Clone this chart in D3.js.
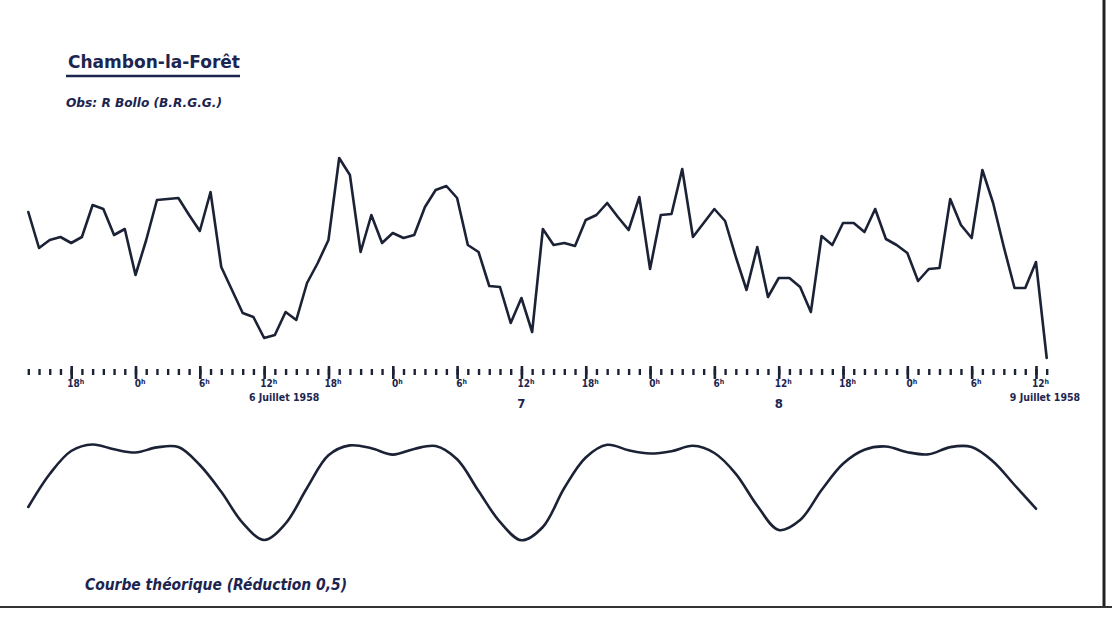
<!DOCTYPE html>
<html>
<head>
<meta charset="utf-8">
<script src="https://cdn.jsdelivr.net/npm/d3@7"></script>
<style>
  html, body { margin: 0; padding: 0; background: #ffffff; }
  svg { display: block; }
  .hand { font-family: "DejaVu Sans Condensed", "Liberation Sans Narrow", "DejaVu Sans", sans-serif; font-stretch: condensed; fill: #1c2550; font-weight: bold; }
</style>
</head>
<body>
<svg id="chart" width="1117" height="617"></svg>
<script>
// ---------- DATA ----------
const startTime = Date.UTC(1958, 6, 5, 14);          // 5 juillet 1958, 14h
const endTime   = Date.UTC(1958, 6, 9, 13);          // 9 juillet 1958, 13h
// observed hourly readings (arbitrary units), from 5 juillet 14h
const observed = [
  14.8, 11.2, 12.0, 12.3, 11.7, 12.3, 15.5, 15.1, 12.5, 13.1,
   8.5, 12.0, 16.0, 16.1, 16.2, 14.5, 12.9, 16.8,  9.3,  7.0,
   4.7,  4.3,  2.2,  2.5,  4.8,  4.0,  7.7,  9.7, 12.0, 20.2,
  18.5, 10.8, 14.5, 11.7, 12.7, 12.2, 12.5, 15.3, 17.0, 17.4,
  16.2, 11.5, 10.8,  7.4,  7.3,  3.7,  6.2,  2.8, 13.1, 11.5,
  11.7, 11.4, 14.0, 14.5, 15.7, 14.3, 13.0, 16.3,  9.1, 14.5,
  14.6, 19.1, 12.3, 13.7, 15.1, 13.9, 10.3,  7.0, 11.3,  6.3,
   8.2,  8.2,  7.3,  4.8, 12.4, 11.5, 13.7, 13.7, 12.8, 15.1,
  12.1, 11.5, 10.7,  7.9,  9.1,  9.2, 16.1, 13.5, 12.2, 19.0,
  15.7, 11.3,  7.2,  7.2,  9.8,  0.2
];
// theoretical curve, every 2 hours from 5 juillet 14h
const theoreticalStep = 2;
const theoretical = [
   5.3,  8.6, 10.9, 11.55, 11.07, 10.75, 11.26, 11.3,  9.5,  6.82,
   3.71, 2.0,  3.65, 7.2, 10.47, 11.46, 11.18, 10.54, 11.11, 11.4,
  10.07, 6.9,  3.81, 1.98, 3.3,  7.2, 10.25, 11.52, 10.97, 10.65,
  10.88, 11.42, 10.7, 8.62, 5.43, 3.0,  4.0,  7.0,  9.63, 11.03,
  11.35, 10.78, 10.57, 11.29, 11.3, 9.85, 7.5,  5.13
];
const titleText = "Chambon-la-Forêt";
const subtitleText = "Obs: R Bollo (B.R.G.G.)";
const curveLabel = "Courbe théorique (Réduction 0,5)";
const dayLabelDates = [Date.UTC(1958,6,6,12), Date.UTC(1958,6,7,12), Date.UTC(1958,6,8,12), Date.UTC(1958,6,9,12)];
const dayLabelTexts = ["6 Juillet 1958", "7", "8", "9 Juillet 1958"];

// ---------- LAYOUT ----------
const W = 1117, H = 617;
const ink = "#1c2236";
const svg = d3.select("#chart");
svg.append("rect").attr("width", W).attr("height", H).attr("fill", "#ffffff");

const x = d3.scaleUtc().domain([new Date(startTime), new Date(endTime)]).range([28.3, 1046.7]);
const yObs = d3.scaleLinear().domain([0, 20]).range([360, 160]);
const yTheo = d3.scaleLinear().domain([0, 12]).range([560, 440]);
const hourMs = 3600 * 1000;

// observed curve
const obsLine = d3.line()
  .x((d, i) => x(new Date(startTime + i * hourMs)))
  .y(d => yObs(d));
svg.append("path").datum(observed)
  .attr("d", obsLine)
  .attr("fill", "none").attr("stroke", ink)
  .attr("stroke-width", 2.6).attr("stroke-linejoin", "round").attr("stroke-linecap", "round");

// theoretical curve
const theoLine = d3.line()
  .x((d, i) => x(new Date(startTime + i * theoreticalStep * hourMs)))
  .y(d => yTheo(d))
  .curve(d3.curveCatmullRom.alpha(0.5));
svg.append("path").datum(theoretical)
  .attr("d", theoLine)
  .attr("fill", "none").attr("stroke", ink)
  .attr("stroke-width", 2.6).attr("stroke-linejoin", "round").attr("stroke-linecap", "round");

// time axis: hourly dashes
const axisY = 369;
const hourly = d3.axisBottom(x)
  .ticks(d3.utcHour.every(1))
  .tickSize(6)
  .tickFormat("");
const gh = svg.append("g").attr("transform", `translate(0,${axisY})`).call(hourly);
gh.select(".domain").remove();
gh.selectAll(".tick line").attr("stroke", ink).attr("stroke-width", 2.4);

// 6-hour ticks with labels
const sixHour = d3.axisBottom(x)
  .tickValues(d3.utcHour.every(6).range(new Date(startTime), new Date(endTime)))
  .tickSize(13)
  .tickPadding(1)
  .tickFormat(d => d.getUTCHours());
const g6 = svg.append("g").attr("transform", `translate(0,${axisY - 3})`).call(sixHour);
g6.select(".domain").remove();
g6.selectAll(".tick line").attr("stroke", ink).attr("stroke-width", 2.6);
g6.selectAll(".tick text")
  .attr("class", "hand")
  .attr("font-size", 10)
  .attr("dx", 4)
  .each(function(d) {
    const t = d3.select(this);
    const hr = d.getUTCHours();
    t.text(null);
    t.append("tspan").text(hr);
    t.append("tspan").attr("dy", -3).attr("font-size", 7).text("h");
  });

// day labels
svg.selectAll("text.day").data(dayLabelTexts).join("text")
  .attr("class", "hand day")
  .attr("x", (d, i) => x(new Date(dayLabelDates[i])))
  .attr("y", (d, i) => (d.length > 2 ? 401 : 408))
  .attr("dx", (d, i) => (i === 0 ? 20 : (i === 3 ? 9 : 0)))
  .attr("text-anchor", "middle")
  .attr("font-size", (d) => (d.length > 2 ? 10.5 : 13))
  .text(d => d);

// title
svg.append("text").attr("class", "hand")
  .attr("x", 68).attr("y", 68)
  .attr("font-size", 18.5)
  .attr("textLength", 172)
  .attr("lengthAdjust", "spacingAndGlyphs")
  .text(titleText);
svg.append("line").attr("x1", 66).attr("x2", 240).attr("y1", 76).attr("y2", 76)
  .attr("stroke", "#1c2550").attr("stroke-width", 2.6);
svg.append("text").attr("class", "hand")
  .attr("x", 66).attr("y", 107)
  .attr("font-size", 12.5).attr("font-style", "italic")
  .attr("textLength", 156).attr("lengthAdjust", "spacingAndGlyphs")
  .text(subtitleText);
svg.append("text").attr("class", "hand")
  .attr("x", 85).attr("y", 590)
  .attr("font-size", 15).attr("font-style", "italic")
  .attr("textLength", 262).attr("lengthAdjust", "spacingAndGlyphs")
  .text(curveLabel);

// frame lines
svg.append("line").attr("x1", 1104).attr("x2", 1104).attr("y1", 0).attr("y2", 606)
  .attr("stroke", "#222222").attr("stroke-width", 3);
svg.append("line").attr("x1", 0).attr("x2", 1112).attr("y1", 607).attr("y2", 607)
  .attr("stroke", "#333333").attr("stroke-width", 2.2);
</script>
</body>
</html>
